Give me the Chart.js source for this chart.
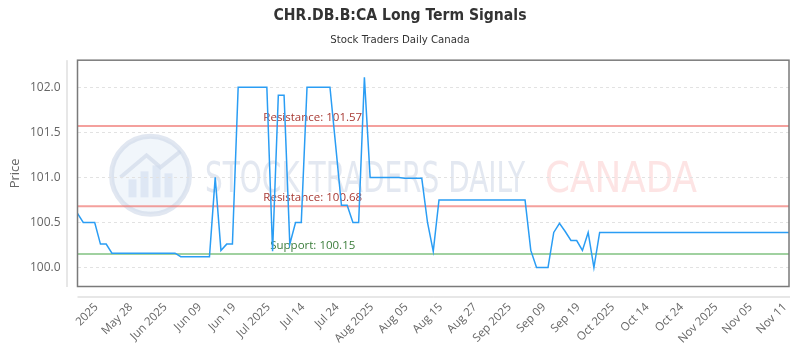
<!DOCTYPE html>
<html><head><meta charset="utf-8">
<script src="https://cdn.jsdelivr.net/npm/chart.js@4.4.0/dist/chart.umd.min.js"></script>
<style>html,body{margin:0;padding:0;background:#fff;}</style>
</head><body>
<canvas id="c" width="800" height="350" style="width:800px;height:350px;display:block"></canvas>
<script>
// ---- data ----
const tickLabels = ["2025","May 28","Jun 2025","Jun 09","Jun 19","Jul 2025","Jul 14","Jul 24","Aug 2025","Aug 05","Aug 15","Aug 27","Sep 2025","Sep 09","Sep 19","Oct 2025","Oct 14","Oct 24","Nov 2025","Nov 05","Nov 11"];
const prices = [
 100.60,100.50,100.50,100.50,100.26,100.26,
 100.16,100.16,100.16,100.16,100.16,100.16,100.16,100.16,100.16,100.16,100.16,100.16,
 100.12,100.12,100.12,100.12,100.12,100.12,
 101.00,100.19,100.26,100.26,
 102.00,102.00,102.00,102.00,102.00,102.00,
 100.18,101.91,101.91,100.26,100.50,100.50,
 102.00,102.00,102.00,102.00,102.00,
 101.35,100.69,100.69,100.50,100.50,102.11,
 101.00,101.00,101.00,101.00,101.00,101.00,
 100.99,100.99,100.99,100.99,
 100.50,100.18,
 100.75,100.75,100.75,100.75,100.75,100.75,100.75,100.75,100.75,100.75,100.75,100.75,100.75,100.75,100.75,100.75,
 100.19,100.00,100.00,100.00,100.39,100.49,100.40,100.30,100.30,100.19,100.39,100.00,
 100.39,100.39,100.39,100.39,100.39,100.39,100.39,100.39,100.39,100.39,
 100.39,100.39,100.39,100.39,100.39,100.39,100.39,100.39,100.39,100.39,
 100.39,100.39,100.39,100.39,100.39,100.39,100.39,100.39,100.39,100.39,
 100.39,100.39,100.39,100.39
];
const yTicks = [100.0, 100.5, 101.0, 101.5, 102.0];
const resistanceLevels = [101.57, 100.68];
const supportLevels = [100.15];
const tickStep = 6;

// categories: one per price point, tick labels every tickStep points ending at the last point
const categories = prices.map((_, i) => {
  const k = (i - (prices.length - 1 - (tickLabels.length - 1) * tickStep));
  return (k >= 0 && k % tickStep === 0) ? tickLabels[k / tickStep] : '';
});

const narrow = "'Liberation Sans Narrow', 'DejaVu Sans Condensed', 'Roboto', sans-serif";
const uiFont = "'Open Sans', sans-serif";

const decor = {
  id: 'decor',
  beforeDraw(chart) {
    const {ctx, chartArea: a} = chart;
    ctx.save();
    // watermark logo
    const cx = a.left + 73, cy = (a.top + a.bottom) / 2 + 2, r = 39;
    ctx.beginPath(); ctx.arc(cx, cy, r, 0, Math.PI * 2);
    ctx.fillStyle = 'rgba(230,238,248,0.55)'; ctx.fill();
    ctx.lineWidth = 5; ctx.strokeStyle = 'rgba(205,215,232,0.6)'; ctx.stroke();
    ctx.fillStyle = 'rgba(205,218,238,0.55)';
    [[-22,10],[-10,18],[2,24],[14,16]].forEach(([dx,h]) => ctx.fillRect(cx + dx, cy + 22 - h - 8, 8, h + 8));
    ctx.beginPath(); ctx.moveTo(cx - 30, cy + 2); ctx.lineTo(cx - 4, cy - 20); ctx.lineTo(cx + 10, cy - 8); ctx.lineTo(cx + 30, cy - 24);
    ctx.lineWidth = 4; ctx.strokeStyle = 'rgba(205,215,232,0.6)'; ctx.stroke();
    // watermark text
    ctx.textBaseline = 'alphabetic'; ctx.textAlign = 'left';
    ctx.font = "42px " + narrow;
    ctx.fillStyle = 'rgba(200,210,228,0.5)';
    ctx.fillText('STOCK TRADERS DAILY', 205, cy + 17, 320);
    ctx.fillStyle = 'rgba(250,195,195,0.45)';
    ctx.fillText('CANADA', 545, cy + 17, 152);
    ctx.restore();
  },
  beforeDatasetsDraw(chart) {
    const {ctx, chartArea: a, scales: {x, y}} = chart;
    ctx.save();
    const lx = x.getPixelForValue(41);
    const drawLevel = (v, line, txt, label) => {
      const py = y.getPixelForValue(v);
      ctx.beginPath(); ctx.moveTo(a.left, py); ctx.lineTo(a.right, py);
      ctx.lineWidth = 2; ctx.strokeStyle = line; ctx.stroke();
      ctx.font = "11.5px " + uiFont; ctx.fillStyle = txt;
      ctx.textAlign = 'center'; ctx.textBaseline = 'middle';
      ctx.fillText(label, lx, py - 8.5);
    };
    resistanceLevels.forEach(v => drawLevel(v, 'rgba(240,120,115,0.7)', '#a83a34', 'Resistance: ' + v.toFixed(2)));
    supportLevels.forEach(v => drawLevel(v, 'rgba(120,190,120,0.7)', '#3b7d3b', 'Support: ' + v.toFixed(2)));
    ctx.restore();
  },
  afterDraw(chart) {
    const {ctx, chartArea: a} = chart;
    ctx.save();
    ctx.lineWidth = 1.5; ctx.strokeStyle = '#7a7a7a';
    ctx.strokeRect(a.left, a.top, a.right - a.left, a.bottom - a.top);
    ctx.lineWidth = 1; ctx.strokeStyle = '#cfcfcf';
    ctx.beginPath();
    ctx.moveTo(a.left - 10.5, a.top); ctx.lineTo(a.left - 10.5, a.bottom + 0.5);
    ctx.moveTo(a.left, a.bottom + 10.5); ctx.lineTo(a.right + 1, a.bottom + 10.5);
    ctx.stroke();
    ctx.restore();
  }
};

new Chart(document.getElementById('c'), {
  type: 'line',
  data: {
    labels: categories,
    datasets: [{
      data: prices,
      borderColor: '#2a9df4',
      borderWidth: 1.5,
      pointRadius: 0,
      tension: 0,
      fill: false
    }]
  },
  options: {
    responsive: false,
    animation: false,
    layout: {padding: {left: 0, right: 0, top: 0, bottom: 0}},
    plugins: {
      legend: {display: false},
      tooltip: {enabled: false},
      title: {display: true, text: 'CHR.DB.B:CA Long Term Signals', color: '#333',
        font: {family: narrow, size: 15.6, weight: 'bold'}, padding: {top: 6.5, bottom: 3}},
      subtitle: {display: true, text: 'Stock Traders Daily Canada', color: '#333',
        font: {family: narrow, size: 11.3}, padding: {top: 5, bottom: 13.4}}
    },
    scales: {
      x: {
        grid: {display: false, drawTicks: false},
        border: {display: false},
        ticks: {autoSkip: false, maxRotation: 45, minRotation: 45, color: '#666',
          font: {family: uiFont, size: 11.5}, padding: 14, labelOffset: -4},
        afterFit(s) { s.height = 63.5; s.paddingLeft = 0; s.paddingRight = 11; }
      },
      y: {
        min: 99.79, max: 102.3,
        afterBuildTicks(s) { s.ticks = yTicks.map(v => ({value: v})); },
        grid: {color: '#e2e2e2', drawTicks: false},
        border: {display: false, dash: [3, 3]},
        ticks: {callback: v => Number(v).toFixed(1), color: '#666', font: {family: uiFont, size: 12}, padding: 17},
        title: {display: true, text: 'Price', color: '#666', font: {family: uiFont, size: 13}, padding: {top: 7, bottom: 0}},
        afterFit(s) { s.width = 77.5; }
      }
    }
  },
  plugins: [decor]
});
</script>
</body></html>
